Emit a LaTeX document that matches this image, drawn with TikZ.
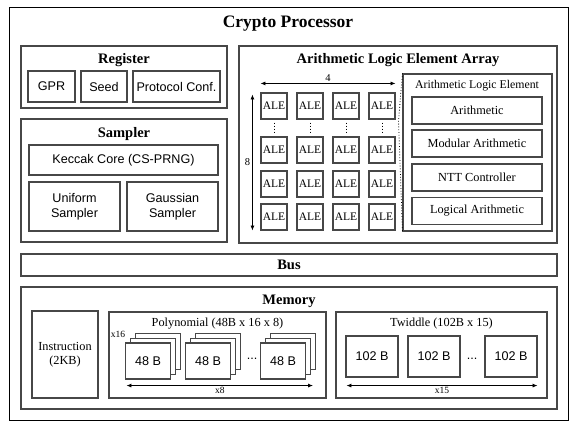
\documentclass[tikz,border=0pt]{standalone}
\usepackage{fontspec}
\setmainfont{Liberation Serif}
\newfontfamily\arialfont{Liberation Sans}
\usetikzlibrary{arrows.meta}
\tikzset{
	blk/.style={draw=black!72, line width=1.1pt, fill=white, inner sep=0pt},
	hdr/.style={font=\fontsize{14.5}{16}\selectfont\bfseries},
	serif/.style={font=\fontsize{12.3}{14}\selectfont},
	sans/.style={font=\arialfont\fontsize{12.6}{14.5}\selectfont},
	tiny/.style={font=\fontsize{9.5}{10}\selectfont, inner sep=1pt},
	dimarr/.style={{Latex[length=5pt,width=4pt]}-{Latex[length=5pt,width=4pt]}, line width=0.8pt},
}

\begin{document}
\begin{tikzpicture}[x=1pt, y=-1pt]
			%%%%% START %%%%%
			\useasboundingbox (0,0) rectangle (576,426);
			
			\node[draw=black, line width=0.8pt, minimum width=559pt, minimum height=413pt] (cpu) at (288.5,213.5) {};
			\node[font=\fontsize{17.5}{19}\selectfont\bfseries] (cputitle) at (288,24) {Crypto Processor};
			
			%%%%% REGISTER %%%%%
			\node[blk, minimum width=206pt, minimum height=62pt] (reg) at (124,77) {};
			\node[hdr] (regtitle) at (124,60.5) {Register};
			\node[blk, sans, minimum width=47pt, minimum height=31pt] (gpr) at (51.5,86.5) {GPR};
			\node[blk, sans, minimum width=46pt, minimum height=31pt] (seed) at (104,86.5) {Seed};
			\node[blk, sans, minimum width=87pt, minimum height=31pt] (conf) at (176.5,86.5) {Protocol Conf.};
			
			%%%%% SAMPLER %%%%%
			\node[blk, minimum width=206pt, minimum height=123pt] (smp) at (124,180.5) {};
			\node[hdr] (smptitle) at (124,134.5) {Sampler};
			\node[blk, sans, minimum width=189pt, minimum height=30pt] (keccak) at (123.5,160) {Keccak Core (CS-PRNG)};
			\node[blk, sans, align=center, minimum width=91pt, minimum height=49pt] (unif) at (74.5,206.5) {Uniform\\Sampler};
			\node[blk, sans, align=center, minimum width=91pt, minimum height=49pt] (gauss) at (172.5,206.5) {Gaussian\\Sampler};
			
			%%%%% ALE ARRAY %%%%%
			\node[blk, minimum width=318pt, minimum height=197pt] (alea) at (398,144.5) {};
			\node[hdr] (aleatitle) at (398,60.5) {Arithmetic Logic Element Array};
			\foreach \cx [count=\c] in {274,310,346,382} {
				\foreach \ry [count=\r] in {106,150,184,217}
					\node[blk, font=\fontsize{11.5}{13}\selectfont, minimum size=26pt] (a\r\c) at (\cx,\ry) {ALE};
				\draw[dotted, line width=1pt, shorten <=3pt, shorten >=4pt] (a1\c) -- (a2\c);
			}
			\draw[dimarr] ([yshift=9pt]a11.north west) -- node[above, font=\fontsize{10.5}{12}\selectfont, inner sep=1.5pt] {4} ([yshift=9pt]a14.north east);
			\draw[dimarr] ([xshift=-8pt,yshift=-2pt]a11.north west) -- node[left, font=\fontsize{10.5}{12}\selectfont, inner sep=2pt] {8} ([xshift=-8pt]a41.south west);
			
			\node[blk, minimum width=149pt, minimum height=157pt] (ale) at (477.5,152.5) {};
			\node[font=\fontsize{11.8}{13}\selectfont] (aletitle) at (477,86) {Arithmetic Logic Element};
			\node[blk, serif, minimum width=130pt, minimum height=27pt] (arith) at (477,110.5) {Arithmetic};
			\node[blk, serif, minimum width=130pt, minimum height=27pt] (modar) at (477,143.5) {Modular Arithmetic};
			\node[blk, serif, minimum width=130pt, minimum height=27pt] (ntt) at (477,177.5) {NTT Controller};
			\node[blk, serif, minimum width=130pt, minimum height=27pt] (logic) at (477,211) {Logical Arithmetic};
			\coordinate (zoom) at (398.5,121);
			\draw[dotted, line width=0.8pt] (ale.north west) -- (zoom) -- (ale.south west);
			
			%%%%% BUS %%%%%
			\node[blk, hdr, minimum width=536pt, minimum height=22pt] (bus) at (289,265) {Bus};
			
			%%%%% MEMORY %%%%%
			\node[blk, minimum width=536pt, minimum height=122pt] (mem) at (289,348) {};
			\node[hdr] (memtitle) at (289,301) {Memory};
			\node[blk, serif, align=center, minimum width=66pt, minimum height=87pt] (instr) at (65,354.5) {Instruction\\(2KB)};
			
			\node[blk, minimum width=217pt, minimum height=86pt] (poly) at (217.5,355) {};
			\node[serif] (polytitle) at (217.5,324) {Polynomial (48B x 16 x 8)};
			\node[tiny] (x16) at (118,334) {x16};
			\foreach \px [count=\i] in {148,208,283} {
				\foreach \d in {10,5}
					\node[blk, line width=0.9pt, minimum width=45pt, minimum height=36pt] (pb\i\d) at (\px+\d,361-\d) {};
				\node[blk, sans, minimum width=45pt, minimum height=36pt] (p\i) at (\px,361) {48 B};
			}
			\node[sans] (pdots) at (252,358.5) {...};
			\draw[dimarr] ([xshift=1.5pt,yshift=-6pt]p1.south west) -- node[below, tiny] {x8} ([xshift=7pt,yshift=-6pt]p3.south east);
			
			\node[blk, minimum width=211pt, minimum height=86pt] (twd) at (441.5,355) {};
			\node[serif] (twdtitle) at (441.5,324) {Twiddle (102B x 15)};
			\node[blk, sans, minimum width=52pt, minimum height=41pt] (t1) at (372,356.5) {102 B};
			\node[blk, sans, minimum width=52pt, minimum height=41pt] (t2) at (434,356.5) {102 B};
			\node[blk, sans, minimum width=52pt, minimum height=41pt] (t3) at (511,356.5) {102 B};
			\node[sans] (tdots) at (472,358.5) {...};
			\draw[dimarr] ([xshift=1pt,yshift=-8pt]t1.south west) -- node[below, tiny] {x15} ([yshift=-8pt]t3.south east);
			
			%%%%% END %%%%%
\end{tikzpicture}
\end{document}
